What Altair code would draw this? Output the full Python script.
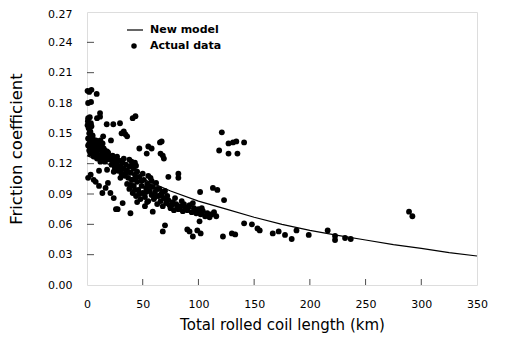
import altair as alt
import pandas as pd

# ---- model curve ----
model_km = [0, 25, 50, 75, 100, 125, 150, 175, 200, 225, 250, 275, 300, 325, 350]
model_cf = [0.128, 0.117, 0.105, 0.093, 0.083, 0.075, 0.067, 0.060, 0.054, 0.049,
            0.0445, 0.040, 0.0363, 0.032, 0.0287]

# ---- actual data, grouped by region (km, friction) ----
left_top = [(0.5, .192), (2, .191), (4, .193), (8.7, .189), (1, .180), (3.6, .181),
            (1, .165), (2.5, .166), (0.5, .158), (1.5, .155), (3, .152), (2, .150),
            (4, .157), (5, .148), (0.8, .162), (3.5, .160)]
upper_scatter = [(11.7, .170), (11.7, .1665), (9, .165), (17.7, .159), (23.6, .159),
                 (29.6, .160), (41, .165), (43.5, .167), (14.5, .147), (21.5, .143),
                 (12, .143), (33, .152), (34.5, .149), (36, .147), (31, .150),
                 (53.6, .130), (58, .135), (47, .135), (55, .137), (67, .142),
                 (65.5, .141), (68, .128), (69, .125), (66, .130), (73, .107),
                 (82, .110), (82, .106)]
blob_a = [(1, .145), (2, .140), (3, .136), (4, .142), (5, .138), (6, .133), (7, .140),
          (8, .136), (9, .131), (10, .138), (11, .134), (12, .128), (13, .136),
          (14, .131), (15, .127), (16, .133), (17, .129), (18, .124), (19, .131),
          (20, .127), (3, .130), (6, .127), (9, .125), (12, .122), (2, .133),
          (5, .146), (8, .143), (14, .140), (11, .141), (7, .129), (10, .126),
          (13, .124), (16, .122), (1, .138), (4, .134), (15, .135), (18, .132)]
blob_b = [(21, .124), (22, .119), (23, .128), (24, .122), (25, .116), (26, .125),
          (27, .120), (28, .113), (29, .123), (30, .117), (31, .110), (32, .121),
          (33, .115), (34, .108), (35, .119), (36, .113), (37, .106), (38, .117),
          (39, .111), (40, .122), (41, .104), (42, .115), (43, .109), (44, .118),
          (45, .112), (27, .127), (33, .125), (38, .124), (24, .112), (30, .106),
          (22, .126), (26, .118), (29, .114), (35, .111), (41, .118), (43, .121)]
left_low = [(3.3, .109), (10.8, .113), (18, .114), (7.8, .102), (10.8, .098),
            (16.7, .096), (18.8, .101), (13.8, .091), (21, .091), (24, .086),
            (26, .075), (27.5, .075), (32, .081), (39, .071), (1, .106), (6, .104)]
blob_c = [(36, .100), (38, .095), (40, .104), (41, .091), (42, .098), (44, .088),
          (45, .102), (46, .094), (47, .107), (48, .085), (49, .098), (50, .091),
          (51, .104), (52, .087), (53, .096), (54, .100), (55, .083), (56, .093),
          (57, .106), (58, .089), (59, .097), (60, .085), (61, .092), (62, .101),
          (63, .080), (64, .088), (65, .095), (66, .083), (67, .090), (68, .078),
          (69, .086), (70, .093), (71, .081), (72, .088), (74, .079), (50, .110),
          (55, .108), (45, .082), (52, .078), (59, .0725), (39, .099), (43, .094),
          (47, .090), (49, .103), (53, .092), (56, .098), (58, .103), (61, .087),
          (63, .095), (66, .089), (68, .092), (71, .085), (44, .106), (54, .082)]
blob_d = [(73, .084), (75, .076), (77, .082), (78, .074), (80, .080), (82, .075),
          (84, .078), (86, .073), (88, .077), (90, .074), (92, .079), (94, .072),
          (96, .076), (98, .071), (100, .075), (102, .070), (104, .073), (106, .068),
          (108, .071), (110, .067), (112, .070), (114, .072), (116, .068),
          (85, .083), (95, .081), (76, .079), (79, .086), (81, .078), (87, .080),
          (91, .077), (97, .074), (103, .076)]
right_scatter = [(70, .059), (68, .053), (90, .055), (92, .053), (95, .048),
                 (99, .054), (102, .051), (101, .063), (101.5, .092), (113, .096),
                 (117, .094), (123, .084), (122, .048), (130, .051), (133, .050),
                 (141, .061), (148, .060), (153, .056), (155, .054), (166.7, .051),
                 (172, .053), (177.7, .0495), (183.7, .0455), (188, .054),
                 (199, .0495), (216, .054), (222.6, .0485), (222.6, .0445),
                 (231.6, .0465), (236.7, .0455), (289, .0725), (292, .068)]
upper_right = [(121, .151), (118.6, .133), (127, .140), (131, .141), (134, .142),
               (141, .141), (127, .130), (135, .130)]

y_labels = [0, 0.03, 0.06, 0.09, 0.12, 0.15, 0.18, 0.21, 0.24, 0.27]
x_labels = [0, 50, 100, 150, 200, 250, 300, 350]
y_ticks = [0.03, 0.06, 0.09, 0.12, 0.15, 0.18, 0.21, 0.24]
x_ticks = [50, 100, 150, 200, 250, 300]

all_pts = (left_top + upper_scatter + blob_a + blob_b + left_low + blob_c +
           blob_d + right_scatter + upper_right)
pts = pd.DataFrame(all_pts, columns=["km", "cf"])
model = pd.DataFrame({"km": model_km, "cf": model_cf})

W, H = 390, 273
FONT = "DejaVu Sans"

xscale = alt.Scale(domain=[0, 350], nice=False, zero=False)
yscale = alt.Scale(domain=[0, 0.27], nice=False, zero=False)

xaxis = alt.Axis(values=x_labels, format="d",
                 ticks=False, grid=False, domain=False, labelFontSize=11,
                 labelFont=FONT, labelColor="black", labelPadding=13,
                 labelOverlap=False, labelFlush=False,
                 title="Total rolled coil length (km)", titleFont=FONT,
                 titleFontSize=15, titleFontWeight="normal", titleColor="black",
                 titleBaseline="middle", titleY=39)
yaxis = alt.Axis(values=y_labels,
                 format=".2f", ticks=False, grid=False, domain=False,
                 labelFontSize=11, labelFont=FONT, labelColor="black",
                 labelPadding=15, labelOverlap=False, labelFlush=False,
                 labelOffset={"condition": {"test": "datum.value >= 0.269", "value": 2},
                              "value": 0},
                 title="Friction coefficient", titleFont=FONT,
                 titleFontSize=16.5, titleFontWeight="normal", titleColor="black",
                 titleX=-63)

points = alt.Chart(pts).mark_circle(size=34, color="black", opacity=1).encode(
    x=alt.X("km:Q", scale=xscale, axis=xaxis),
    y=alt.Y("cf:Q", scale=yscale, axis=yaxis),
)
line = alt.Chart(model).mark_line(color="black", strokeWidth=1.2).encode(
    x=alt.X("km:Q", scale=xscale, axis=xaxis),
    y=alt.Y("cf:Q", scale=yscale, axis=yaxis),
)
ytick = alt.Chart(pd.DataFrame({"km": [0] * len(y_ticks), "cf": y_ticks})).mark_tick(
    color="black", size=7, thickness=1, orient="horizontal").encode(
    y=alt.Y("cf:Q", scale=yscale, axis=yaxis), x=alt.value(3.5))
xtick = alt.Chart(pd.DataFrame({"km": x_ticks})).mark_tick(
    color="black", size=6, thickness=1, orient="vertical").encode(
    x=alt.X("km:Q", scale=xscale, axis=xaxis), y=alt.value(H - 3))

leg_line = alt.Chart(pd.DataFrame({"a": [0]})).mark_rule(
    color="black", strokeWidth=1.2).encode(
    x=alt.value(40), x2=alt.value(56), y=alt.value(18))
leg_dot = alt.Chart(pd.DataFrame({"a": [0]})).mark_circle(
    size=30, color="black", opacity=1).encode(x=alt.value(47), y=alt.value(34))
leg_text = alt.Chart(pd.DataFrame({"t": ["New model", "Actual data"],
                                   "yy": [18, 34]})).mark_text(
    align="left", baseline="middle", font=FONT, fontSize=11, color="black",
    fontWeight="bold").encode(text="t:N", x=alt.value(63), y=alt.Y("yy:Q", scale=None))

chart = alt.layer(points, line, ytick, xtick, leg_line, leg_dot, leg_text).properties(
    width=W, height=H,
    autosize=alt.AutoSizeParams(type="none"),
    padding={"left": 79, "top": 4, "right": 21, "bottom": 49},
).configure_view(stroke="black", strokeWidth=1.2).configure(background="white")

chart.save("out.html", embed_options={"renderer": "svg", "actions": False})
